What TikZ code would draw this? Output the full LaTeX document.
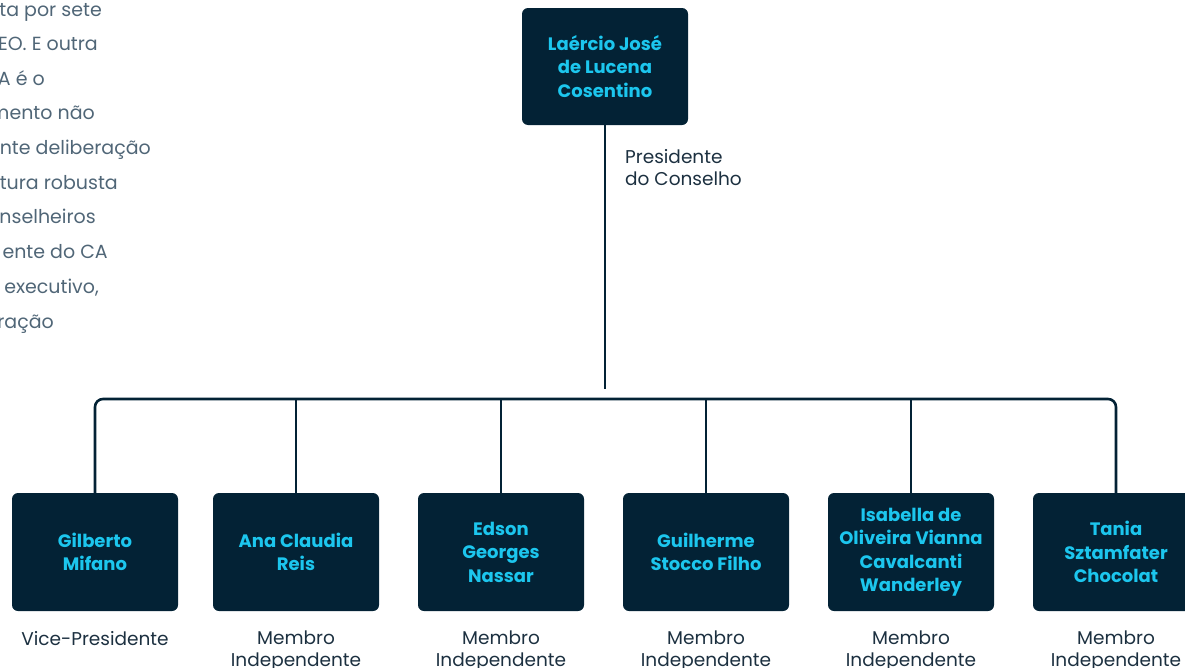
\documentclass[tikz,border=0pt]{standalone}
\usepackage{fontspec}
\setmainfont{Poppins}
\definecolor{navy}{HTML}{032235}
\definecolor{cyanname}{HTML}{1CC6EE}
\definecolor{labeltext}{HTML}{1C3040}
\definecolor{paratext}{HTML}{506677}
\tikzset{
  person/.style={rectangle, rounded corners=6pt, fill=navy, text=cyanname,
    minimum width=166pt, minimum height=118pt, inner sep=2pt, align=center,
    font=\fontsize{18}{23.5}\selectfont\bfseries},
  role/.style={text=labeltext, align=center, inner sep=0pt, anchor=base,
    font=\fontsize{18.5}{22}\selectfont},
  para/.style={text=paratext, inner sep=0pt, anchor=base east,
    font=\fontsize{19}{22}\selectfont},
  link/.style={draw=navy, line width=2.6pt}
}
\begin{document}
\begin{tikzpicture}[x=1pt,y=-1pt]
\useasboundingbox (0,0) rectangle (1185,667);
\clip (0,0) rectangle (1185,667);
% left paragraph fragments (cropped at the left edge, as in the reference)
\node[para] (p1) at (102,16) {ta por sete};
\node[para] (p2) at (98,50) {EO. E outra};
\node[para] (p3) at (45,85) {A é o};
\node[para] (p4) at (95,119) {mento não};
\node[para] (p5) at (151,154) {nte deliberação};
\node[para] (p6) at (118,189) {tura robusta};
\node[para] (p7) at (96,223) {nselheiros};
\node[para] (p8) at (108,258) {ente do CA};
\node[para] (p9) at (99,293) {executivo,};
\node[para] (p10) at (54,328) {ração};
% top
\node[person, minimum height=117pt] (top) at (605,66.5) {Laércio José\\de Lucena\\Cosentino};
\node[role, align=left, anchor=base west] (toprole) at (625,185) {Presidente\\do Conselho};
\coordinate (topend) at (605,389);
\draw[link] (top.south) -- (topend);
% bottom boxes
\node[person] (b1) at (95,552) {Gilberto\\Mifano};
\node[person] (b2) at (296,552) {Ana Claudia\\Reis};
\node[person] (b3) at (501,552) {Edson\\Georges\\Nassar};
\node[person] (b4) at (706,552) {Guilherme\\Stocco Filho};
\node[person] (b5) at (911,552) {Isabella de\\Oliveira Vianna\\Cavalcanti\\Wanderley};
\node[person] (b6) at (1116,552) {Tania\\Sztamfater\\Chocolat};
\coordinate (bus) at (0,399);
\draw[link, rounded corners=8pt] (b1.north) |- (b6.north |- bus) -- (b6.north);
\foreach \b in {b2,b3,b4,b5} \draw[link] (\b.north) -- (\b.north |- bus);
% roles
\node[role] (r1) at (95,645) {Vice-Presidente};
\node[role] (r2) at (296,666) {Membro\\Independente};
\node[role] (r3) at (501,666) {Membro\\Independente};
\node[role] (r4) at (706,666) {Membro\\Independente};
\node[role] (r5) at (911,666) {Membro\\Independente};
\node[role] (r6) at (1116,666) {Membro\\Independente};
\end{tikzpicture}
\end{document}
